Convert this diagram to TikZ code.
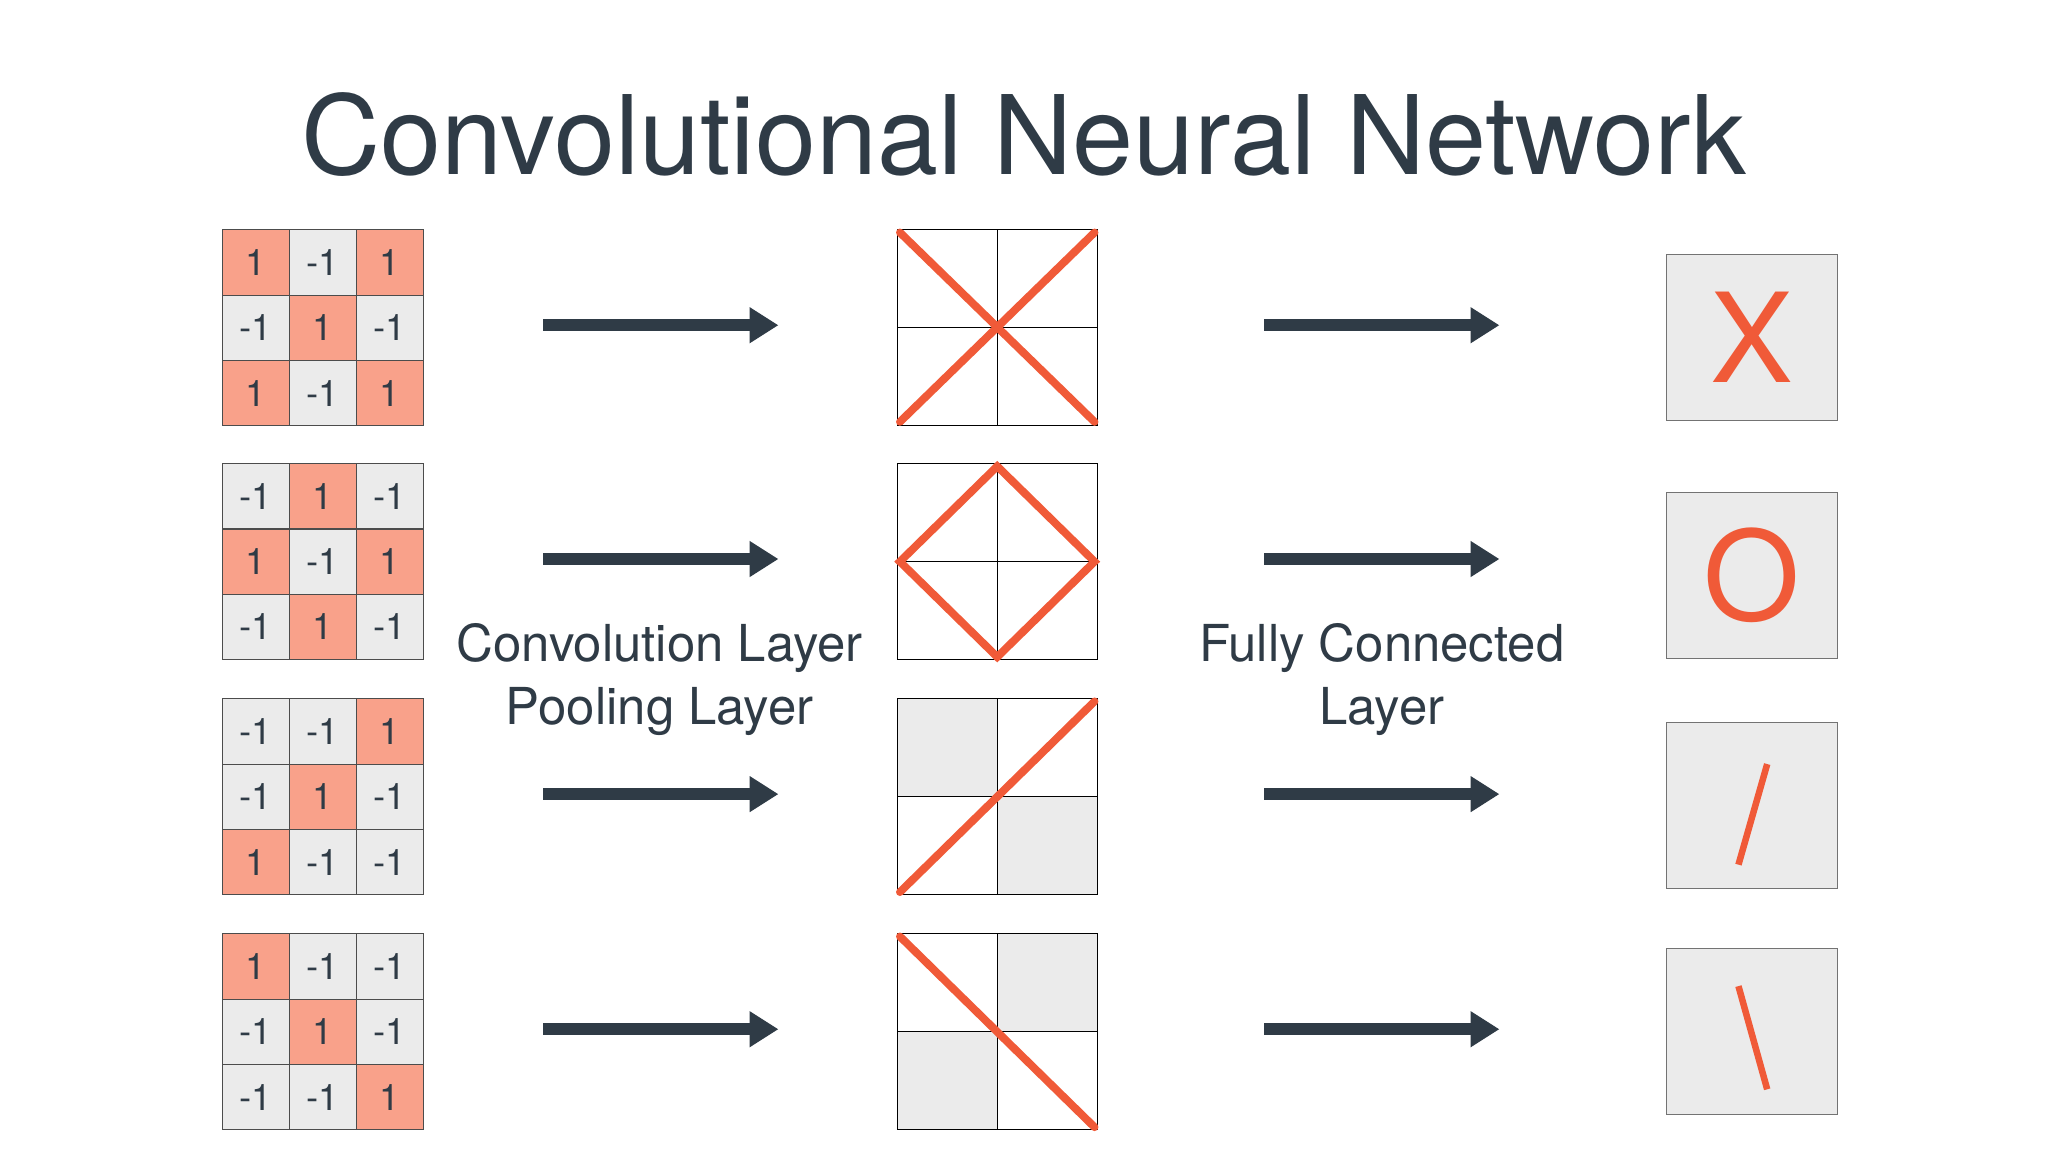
\documentclass[tikz,border=0pt]{standalone}
\usepackage{fontspec}
\setmainfont{TeX Gyre Heros}
\usetikzlibrary{arrows.meta}
\definecolor{salmon}{HTML}{F9A18A}
\definecolor{lgray}{HTML}{EBEBEB}
\definecolor{lred}{HTML}{F05A38}
\definecolor{dark}{HTML}{2F3B46}
\begin{document}
\begin{tikzpicture}[x=1pt,y=-1pt,
 cell/.style={draw=black!70,line width=0.8pt,minimum width=51.3pt,minimum height=50pt,inner sep=0pt,font=\fontsize{28}{30}\selectfont,text=dark},
 poscell/.style={cell,fill=salmon}, negcell/.style={cell,fill=lgray},
 arr/.style={draw=dark,line width=9pt,-{Triangle[length=22pt,width=26pt]}},
 lbl/.style={text=dark,font=\fontsize{39}{48}\selectfont,align=center},
 pool/.style={draw=black,line width=0.8pt},
 stroke/.style={draw=lred,line width=6pt,line cap=round},
 outbox/.style={draw=black!55,fill=lgray,line width=0.8pt,minimum width=131pt,minimum height=127pt,inner sep=0pt,text=lred,font=\fontsize{95}{95}\selectfont}]
\useasboundingbox[fill=white] (0,0) rectangle (1568,882);
\node[text=dark,font=\fontsize{84}{90}\selectfont] (title) at (784,103) {Convolutional Neural Network};
% input grids
\foreach \g/\top/\vals in {1/176/{1,-1,1,-1,1,-1,1,-1,1},2/355/{-1,1,-1,1,-1,1,-1,1,-1},3/535/{-1,-1,1,-1,1,-1,1,-1,-1},4/715/{1,-1,-1,-1,1,-1,-1,-1,1}}{
  \foreach \v [count=\i from 0] in \vals {
    \pgfmathtruncatemacro{\r}{int(\i/3)}
    \pgfmathtruncatemacro{\c}{mod(\i,3)}
    \ifnum\v=1 \def\st{poscell}\else\def\st{negcell}\fi
    \node[\st] (g\g-\r\c) at ({170+51.3*\c+25.65},{\top+50*\r+25}) {\v};
  }
}
% pooling grids
\fill[lgray] (687,535) rectangle (763.5,610);
\fill[lgray] (763.5,610) rectangle (840,685);
\fill[lgray] (763.5,715) rectangle (840,790);
\fill[lgray] (687,790) rectangle (763.5,865);
\foreach \g/\top in {1/176,2/355,3/535,4/715}{
  \draw[pool] (687,\top) rectangle (840,\top+150);
  \draw[pool] (763.5,\top) -- (763.5,\top+150);
  \draw[pool] (687,\top+75) -- (840,\top+75);
}
\draw[stroke] (689,178) -- (838,323);
\draw[stroke] (838,178) -- (689,323);
\draw[stroke] (689,430) -- (763.5,357) -- (838,430) -- (763.5,503) -- cycle;
\draw[stroke] (689,683) -- (838,537);
\draw[stroke] (689,717) -- (838,863);
% arrows
\foreach \y [count=\k] in {249,428,608,788}{
  \coordinate (a\k s) at (416,\y); \coordinate (a\k e) at (596,\y);
  \coordinate (b\k s) at (968,\y); \coordinate (b\k e) at (1148,\y);
  \draw[arr] (a\k s) -- (a\k e);
  \draw[arr] (b\k s) -- (b\k e);
}
\node[lbl] (conv) at (505,520) {Convolution Layer\\Pooling Layer};
\node[lbl] (fc) at (1058,520) {Fully Connected\\Layer};
% outputs
\node[outbox] (oX) at (1341.5,258.5) {X};
\node[outbox] (oO) at (1341.5,440.5) {O};
\node[outbox] (oS) at (1341.5,617) {};
\node[outbox] (oB) at (1341.5,789.5) {};
\draw[draw=lred,line width=5pt] (1353,585) -- (1331,662);
\draw[draw=lred,line width=5pt] (1331,755) -- (1353,834);
\end{tikzpicture}
\end{document}
